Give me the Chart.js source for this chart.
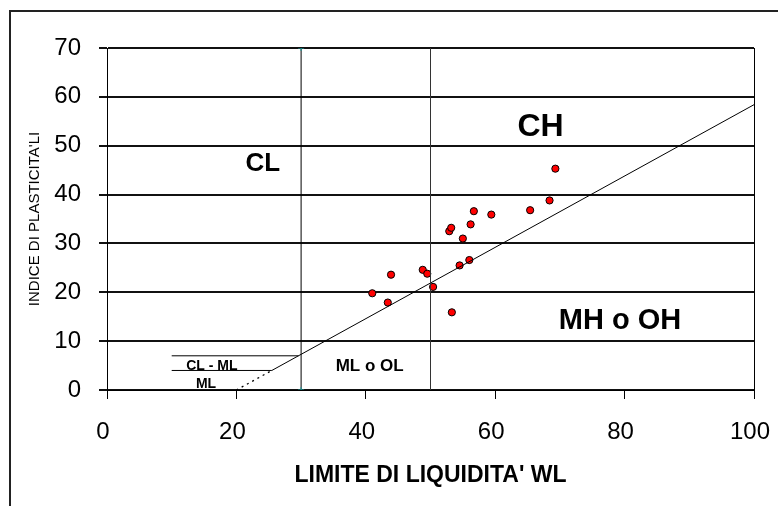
<!DOCTYPE html>
<html><head><meta charset="utf-8">
<script src="https://cdn.jsdelivr.net/npm/chart.js@4"></script>
<style>html,body{margin:0;padding:0;background:#fff}canvas{display:block}</style>
</head><body>
<canvas id="c" width="778" height="506"></canvas>
<script>
// ---- data ----
const wl = [41.0, 43.4, 43.9, 48.8, 49.5, 50.4, 53.3, 54.5, 56.0, 55.0, 52.9, 53.2, 56.2, 56.7, 59.4, 65.4, 68.4, 69.3];
const ip = [19.8, 17.9, 23.6, 24.6, 23.8, 21.1, 15.9, 25.5, 26.6, 31.0, 32.5, 33.2, 33.9, 36.6, 35.9, 36.8, 38.8, 45.3];
const xTicks = [0, 20, 40, 60, 80, 100];
const yTicks = [0, 10, 20, 30, 40, 50, 60, 70];
const aLineX = [25.48, 100];
const aLineY = [4, 58.4];
const aLineDotX = [20, 25.48];
const aLineDotY = [0, 4];
const limitLowX = [30, 30];
const limitHighX = [50, 50];
const limitY = [0, 70];
const clmlTopX = [10, 29.6];
const clmlTopY = [7, 7];
const clmlBotX = [10, 25.48];
const clmlBotY = [4, 4];
const zoneNames = ['CL', 'CH', 'MH o OH', 'ML o OL', 'CL - ML', 'ML'];
const zoneX = [24.1, 67.0, 79.3, 40.6, 16.2, 15.3];
const zoneY = [46.2, 53.7, 14.2, 4.9, 4.8, 1.1];
const zoneSize = [26, 32, 29, 17, 14, 14];
const xTitle = "LIMITE DI LIQUIDITA' WL";
const yTitle = "INDICE DI PLASTICITA'LI";

const pts = (xs, ys) => xs.map((x, i) => ({x, y: ys[i]}));
const FONT = "'Liberation Sans', Arial, sans-serif";

const lineDs = (xs, ys, color, extra) => Object.assign({
  type: 'line', data: pts(xs, ys), borderColor: color, borderWidth: 1,
  pointRadius: 0, showLine: true, fill: false, tension: 0
}, extra || {});

const framePlugin = {
  id: 'frame',
  beforeDraw(chart) {
    const c = chart.ctx;
    c.save();
    c.fillStyle = '#fff';
    c.fillRect(0, 0, chart.width, chart.height);
    c.strokeStyle = '#222';
    c.lineWidth = 2;
    c.beginPath();
    c.moveTo(10, chart.height);
    c.lineTo(10, 11);
    c.lineTo(chart.width, 11);
    c.stroke();
    c.restore();
  },
  beforeDatasetsDraw(chart) {
    const a = chart.chartArea, c = chart.ctx;
    c.save();
    c.strokeStyle = '#000';
    c.lineWidth = 1;
    c.beginPath();
    c.moveTo(Math.round(a.right) + 0.5, a.top);
    c.lineTo(Math.round(a.right) + 0.5, a.bottom);
    c.stroke();
    c.restore();
  },
  afterDatasetsDraw(chart) {
    const c = chart.ctx, xs = chart.scales.x, ys = chart.scales.y;
    c.save();
    c.fillStyle = '#000';
    c.textAlign = 'center';
    c.textBaseline = 'middle';
    zoneNames.forEach((t, i) => {
      c.font = 'bold ' + zoneSize[i] + 'px ' + FONT;
      c.fillText(t, xs.getPixelForValue(zoneX[i]), ys.getPixelForValue(zoneY[i]));
    });
    c.restore();
  }
};

new Chart(document.getElementById('c'), {
  type: 'scatter',
  data: {
    datasets: [
      lineDs(limitLowX, limitY, '#000', {pointRadius: 3, pointStyle: 'cross', pointBorderColor: '#1a9a9a', pointBorderWidth: 1}),
      lineDs(limitHighX, limitY, '#333'),
      lineDs(aLineX, aLineY, '#000'),
      lineDs(aLineDotX, aLineDotY, '#000', {borderDash: [2, 4], borderWidth: 1.3}),
      lineDs(clmlTopX, clmlTopY, '#000'),
      lineDs(clmlBotX, clmlBotY, '#000'),
      {
        type: 'scatter', data: pts(wl, ip),
        backgroundColor: '#ff0000', borderColor: '#000', borderWidth: 1,
        pointRadius: 3.6
      }
    ]
  },
  options: {
    responsive: false,
    animation: false,
    events: [],
    layout: {padding: {left: 0, top: 48, right: 24, bottom: 0}},
    plugins: {legend: {display: false}, tooltip: {enabled: false}},
    scales: {
      x: {
        type: 'linear', min: 0, max: 100,
        afterBuildTicks: s => { s.ticks = xTicks.map(v => ({value: v})); },
        afterFit: s => { s.height = 116; s.paddingRight = 0; s.paddingLeft = 0; },
        grid: {drawOnChartArea: false, drawTicks: true, tickLength: 9, color: '#000', lineWidth: 1},
        border: {display: true, color: '#000', width: 1},
        ticks: {font: {family: FONT, size: 24}, color: '#000', padding: 19, labelOffset: -4, maxRotation: 0},
        title: {display: true, text: xTitle, font: {family: FONT, size: 23, weight: 'bold'}, color: '#000', padding: {top: 0, bottom: 17}}
      },
      y: {
        type: 'linear', min: 0, max: 70,
        afterBuildTicks: s => { s.ticks = yTicks.map(v => ({value: v})); },
        afterFit: s => { s.width = 107; s.paddingTop = 0; s.paddingBottom = 0; },
        grid: {drawOnChartArea: true, drawTicks: true, tickLength: 8, color: '#111', lineWidth: 2},
        border: {display: true, color: '#000', width: 1},
        ticks: {font: {family: FONT, size: 24}, color: '#000', padding: 18},
        title: {display: true, text: yTitle, font: {family: FONT, size: 15}, color: '#000', padding: {top: 26, bottom: 0}}
      }
    }
  },
  plugins: [framePlugin]
});
</script>
</body></html>
